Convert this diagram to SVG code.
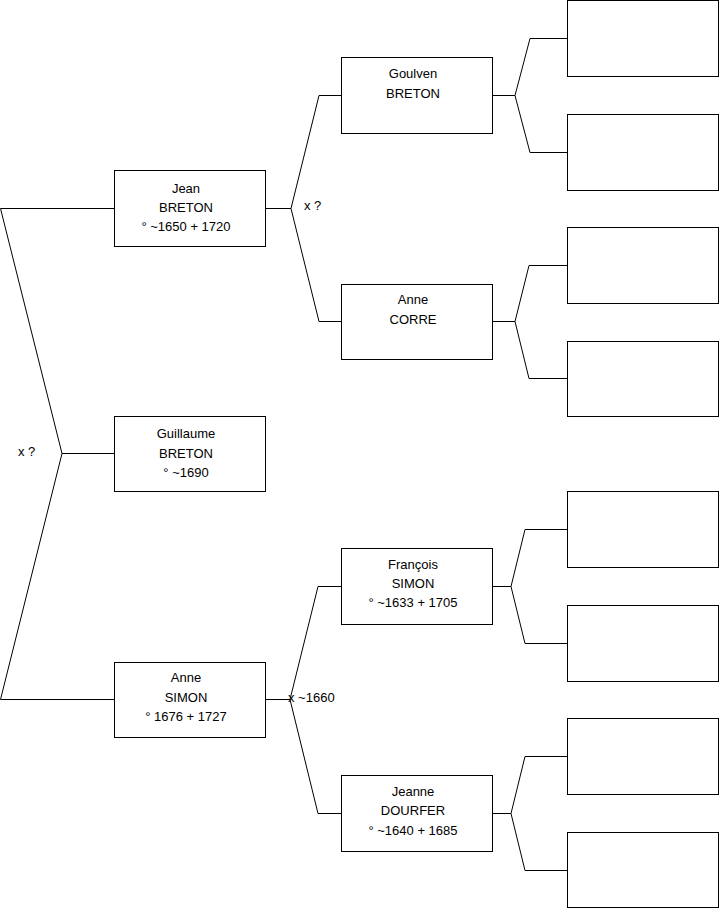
<svg xmlns="http://www.w3.org/2000/svg" width="719" height="908" viewBox="0 0 719 908">
<style>
.box{fill:#fff;stroke:#000;stroke-width:1}
.ln{fill:none;stroke:#000;stroke-width:1}
text{font-family:"Liberation Sans",Arial,sans-serif;font-size:13px;fill:#000}
.c{text-anchor:middle}
</style>
<rect width="719" height="908" fill="#fff"/>
<g id="connectors">
<path class="ln" d="M114,208.5 H0.5 L62,453.5 L0.5,699.5 H114 M62,453.5 H114"/>
<path class="ln" d="M265,208.5 H291 M341,95.5 H319 L291,208.5 L319,321.5 H341"/>
<path class="ln" d="M265,699.5 H290 M341,586.5 H318 L290,699.5 L318,813.5 H341"/>
<path class="ln" d="M492,95.5 H515 M567,38.5 H530 L515,95.5 L530,152.5 H567"/>
<path class="ln" d="M492,321.5 H515 M567,265.5 H529 L515,321.5 L529,378.5 H567"/>
<path class="ln" d="M492,586.5 H511 M567,529.5 H525 L511,586.5 L525,643.5 H567"/>
<path class="ln" d="M492,813.5 H511 M567,756.5 H525 L511,813.5 L525,870.5 H567"/>
</g>
<g id="labels">
<text x="18" y="456">x ?</text>
<text x="304" y="210">x ?</text>
<text x="288" y="702">x ~1660</text>
</g>
<g id="jean">
<rect class="box" x="114.5" y="170.5" width="151" height="76"/>
<text class="c" x="186" y="193">Jean</text>
<text class="c" x="186" y="212">BRETON</text>
<text class="c" x="186" y="231">° ~1650 + 1720</text>
</g>
<g id="guillaume">
<rect class="box" x="114.5" y="416.5" width="151" height="75"/>
<text class="c" x="186" y="438">Guillaume</text>
<text class="c" x="186" y="458">BRETON</text>
<text class="c" x="186" y="477">° ~1690</text>
</g>
<g id="anne-simon">
<rect class="box" x="114.5" y="662.5" width="151" height="75"/>
<text class="c" x="186" y="682">Anne</text>
<text class="c" x="186" y="702">SIMON</text>
<text class="c" x="186" y="721">° 1676 + 1727</text>
</g>
<g id="goulven">
<rect class="box" x="341.5" y="57.5" width="151" height="76"/>
<text class="c" x="413" y="78">Goulven</text>
<text class="c" x="413" y="98">BRETON</text>
</g>
<g id="anne-corre">
<rect class="box" x="341.5" y="284.5" width="151" height="75"/>
<text class="c" x="413" y="304">Anne</text>
<text class="c" x="413" y="324">CORRE</text>
</g>
<g id="francois">
<rect class="box" x="341.5" y="548.5" width="151" height="76"/>
<text class="c" x="413" y="569">François</text>
<text class="c" x="413" y="588">SIMON</text>
<text class="c" x="413" y="607">° ~1633 + 1705</text>
</g>
<g id="jeanne">
<rect class="box" x="341.5" y="775.5" width="151" height="76"/>
<text class="c" x="413" y="796">Jeanne</text>
<text class="c" x="413" y="815">DOURFER</text>
<text class="c" x="413" y="835">° ~1640 + 1685</text>
</g>
<g id="g3-1"><rect class="box" x="567.5" y="0.5" width="151" height="76"/></g>
<g id="g3-2"><rect class="box" x="567.5" y="114.5" width="151" height="76"/></g>
<g id="g3-3"><rect class="box" x="567.5" y="227.5" width="151" height="76"/></g>
<g id="g3-4"><rect class="box" x="567.5" y="341.5" width="151" height="75"/></g>
<g id="g3-5"><rect class="box" x="567.5" y="491.5" width="151" height="76"/></g>
<g id="g3-6"><rect class="box" x="567.5" y="605.5" width="151" height="76"/></g>
<g id="g3-7"><rect class="box" x="567.5" y="718.5" width="151" height="76"/></g>
<g id="g3-8"><rect class="box" x="567.5" y="832.5" width="151" height="75"/></g>
</svg>
